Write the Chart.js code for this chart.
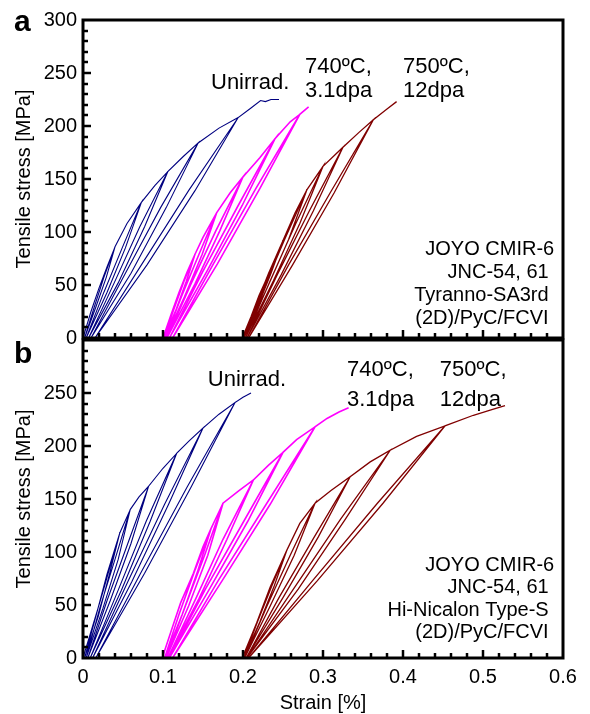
<!DOCTYPE html>
<html>
<head>
<meta charset="utf-8">
<script src="https://cdn.jsdelivr.net/npm/chart.js@4"></script>
<style>
  body { margin: 0; background: #fff; }
  #wrap { position: relative; width: 590px; height: 714px; }
  canvas { position: absolute; left: 0; }
</style>
</head>
<body>
<div id="wrap">
  <canvas id="panelA" width="590" height="356" style="top:0"></canvas>
  <canvas id="panelB" width="590" height="392" style="top:322px"></canvas>
</div>
<script>
// strain [%], stress [MPa] - loading envelope with unload/reload loops
var aUnirrad = [[0,0],[0.010,25],[0.020,47],[0.030,67],[0.040,86],
  [0.029,57],[0.016,29],[0.002,0],[0.014,29],[0.026,57],[0.040,86],
  [0.055,108],[0.073,128],
  [0.053,85],[0.030,43],[0.004,0],[0.026,43],[0.049,85],[0.073,128],
  [0.090,144],[0.106,157],
  [0.077,105],[0.044,52],[0.007,0],[0.039,52],[0.071,105],[0.106,157],
  [0.125,171],[0.144,184],
  [0.104,123],[0.060,61],[0.010,0],[0.053,61],[0.097,123],[0.144,184],
  [0.170,198],[0.194,208],
  [0.140,139],[0.080,69],[0.015,0],[0.073,69],[0.132,139],[0.194,208],
  [0.210,217],[0.222,224],[0.228,223],[0.235,225],[0.245,225]];

var a740 = [[0.100,0],[0.110,22],[0.120,43],[0.130,62],[0.140,79],
  [0.129,53],[0.116,26],[0.101,0],[0.113,26],[0.126,53],[0.140,79],
  [0.150,95],[0.167,118],
  [0.149,79],[0.127,39],[0.103,0],[0.123,39],[0.145,79],[0.167,118],
  [0.184,137],[0.200,152],
  [0.171,101],[0.140,51],[0.105,0],[0.135,51],[0.166,101],[0.200,152],
  [0.221,170],[0.240,188],
  [0.199,125],[0.155,63],[0.108,0],[0.150,63],[0.194,125],[0.240,188],
  [0.259,204],[0.271,211],
  [0.221,141],[0.168,70],[0.112,0],[0.163,70],[0.216,141],[0.271,211],
  [0.282,218]];

var a750 = [[0.199,0],[0.210,20],[0.220,40],[0.235,65],[0.250,92],
  [0.235,61],[0.219,31],[0.200,0],[0.216,31],[0.232,61],[0.250,92],
  [0.265,118],[0.280,140],
  [0.257,93],[0.230,47],[0.201,0],[0.226,47],[0.252,93],[0.280,140],
  [0.300,162],
  [0.271,108],[0.238,54],[0.203,0],[0.234,54],[0.266,108],[0.300,162],
  [0.325,180],
  [0.288,120],[0.248,60],[0.205,0],[0.243,60],[0.283,120],[0.325,180],
  [0.345,194],[0.363,206],
  [0.314,137],[0.262,69],[0.207,0],[0.257,69],[0.309,137],[0.363,206],
  [0.380,216],[0.392,223]];

var bUnirrad = [[0,0],[0.012,30],[0.024,60],[0.036,92],[0.046,118],
  [0.033,79],[0.019,39],[0.002,0],[0.016,39],[0.030,79],[0.046,118],
  [0.059,140],
  [0.044,93],[0.025,47],[0.004,0],[0.021,47],[0.040,93],[0.059,140],
  [0.070,152],[0.082,162],
  [0.060,108],[0.034,54],[0.006,0],[0.030,54],[0.056,108],[0.082,162],
  [0.100,179],[0.117,193],
  [0.084,129],[0.048,64],[0.009,0],[0.044,64],[0.079,129],[0.117,193],
  [0.133,205],[0.150,217],
  [0.107,145],[0.061,72],[0.012,0],[0.056,72],[0.102,145],[0.150,217],
  [0.170,230],[0.190,241],
  [0.135,161],[0.077,80],[0.016,0],[0.072,80],[0.130,161],[0.190,241],
  [0.200,246],[0.210,250]];

var b740 = [[0.099,0],[0.110,25],[0.122,52],[0.138,80],[0.150,105],[0.160,122],
  [0.143,81],[0.124,41],[0.102,0],[0.120,41],[0.139,81],[0.160,122],
  [0.170,138],[0.175,146],
  [0.156,97],[0.132,49],[0.104,0],[0.128,49],[0.152,97],[0.175,146],
  [0.195,158],[0.213,168],
  [0.180,112],[0.145,56],[0.106,0],[0.141,56],[0.175,112],[0.213,168],
  [0.232,182],[0.250,194],
  [0.206,129],[0.158,65],[0.108,0],[0.153,65],[0.201,129],[0.250,194],
  [0.267,206],[0.290,218],
  [0.234,145],[0.174,73],[0.112,0],[0.169,73],[0.229,145],[0.290,218],
  [0.305,226],[0.320,232],[0.332,236]];

var b750 = [[0.199,0],[0.210,20],[0.217,33],[0.234,67],[0.255,102],
  [0.239,68],[0.221,34],[0.201,0],[0.218,34],[0.236,68],[0.255,102],
  [0.271,127],[0.290,146],
  [0.264,97],[0.234,49],[0.202,0],[0.230,49],[0.259,97],[0.290,146],
  [0.310,158],[0.334,171],
  [0.294,114],[0.250,57],[0.204,0],[0.245,57],[0.289,114],[0.334,171],
  [0.359,185],[0.384,196],
  [0.328,131],[0.269,65],[0.205,0],[0.263,65],[0.322,131],[0.384,196],
  [0.417,209],[0.4525,219],
  [0.375,146],[0.293,73],[0.207,0],[0.287,73],[0.368,146],[0.4525,219],
  [0.488,229],[0.510,234],[0.5275,238]];

var xTicks = [0, 0.1, 0.2, 0.3, 0.4, 0.5, 0.6];
var yTicksA = [0, 50, 100, 150, 200, 250, 300];
var yTicksB = [0, 50, 100, 150, 200, 250];

var colors = ['#000080', '#ff00ff', '#800000'];
var widths = [1.1, 1.6, 1.3];
var FONT = '"Liberation Sans", Arial, sans-serif';

// text labels: [text, strain, stress, size, align]
var notesA = [
  ['Unirrad.', 0.160, 235, 22, 'left'],
  ['740ºC,', 0.2775, 250, 22, 'left'], ['3.1dpa', 0.2775, 227, 22, 'left'],
  ['750ºC,', 0.400, 250, 22, 'left'], ['12dpa', 0.400, 227, 22, 'left'],
  ['JOYO CMIR-6', 0.589, 78, 20, 'right'], ['JNC-54, 61 ', 0.589, 56.5, 20, 'right'],
  ['Tyranno-SA3rd ', 0.589, 35, 20, 'right'], ['(2D)/PyC/FCVI ', 0.589, 13.5, 20, 'right']
];
var notesB = [
  ['Unirrad.', 0.156, 257, 22, 'left'],
  ['740ºC,', 0.330, 266, 22, 'left'], ['3.1dpa', 0.330, 238, 22, 'left'],
  ['750ºC,', 0.446, 266, 22, 'left'], ['12dpa', 0.446, 238, 22, 'left'],
  ['JOYO CMIR-6', 0.589, 82, 20, 'right'], ['JNC-54, 61 ', 0.589, 61, 20, 'right'],
  ['Hi-Nicalon Type-S ', 0.589, 39.5, 20, 'right'], ['(2D)/PyC/FCVI ', 0.589, 18.5, 20, 'right']
];

function toXY(arr) {
  return arr.map(function (p) { return { x: p[0], y: p[1] }; });
}

var framePlugin = {
  id: 'frame',
  afterDraw: function (chart) {
    var ctx = chart.ctx, area = chart.chartArea;
    var xs = chart.scales.x, ys = chart.scales.y;
    var o = chart.options.plugins.frame;
    ctx.save();
    ctx.strokeStyle = '#000';
    ctx.lineCap = 'butt';
    // inward ticks on left and bottom
    ctx.lineWidth = 2.5;
    var v;
    for (v = 0; v <= 300.001; v += 10) {
      var py = Math.round(ys.getPixelForValue(v));
      if (py < area.top + 3 || py > area.bottom - 3) continue;
      var len = (Math.round(v) % 50 === 0) ? 8 : 5;
      ctx.beginPath(); ctx.moveTo(area.left, py); ctx.lineTo(area.left + len, py); ctx.stroke();
    }
    for (var i = 0; i <= 30; i++) {
      v = i * 0.02;
      var px = Math.round(xs.getPixelForValue(v));
      if (px < area.left + 3 || px > area.right - 3) continue;
      var l2 = (i % 5 === 0) ? 8 : 5;
      ctx.beginPath(); ctx.moveTo(px, area.bottom); ctx.lineTo(px, area.bottom - l2); ctx.stroke();
    }
    ctx.lineWidth = 3;
    ctx.strokeRect(area.left, area.top, area.right - area.left, area.bottom - area.top);

    ctx.fillStyle = '#000';
    ctx.textBaseline = 'alphabetic';
    o.notes.forEach(function (n) {
      ctx.font = n[3] + 'px ' + FONT;
      ctx.textAlign = n[4];
      ctx.fillText(n[0], xs.getPixelForValue(n[1]), ys.getPixelForValue(n[2]));
    });
    ctx.font = 'bold 30px ' + FONT;
    ctx.textAlign = 'left';
    ctx.fillText(o.letter, 14, o.letterY);
    ctx.restore();
  }
};

function makePanel(id, series, yTicks, showX, pad, xHeight, notes, letter, letterY) {
  var sets = series.map(function (s, k) {
    return {
      data: toXY(s),
      showLine: true,
      borderColor: colors[k],
      borderWidth: widths[k],
      pointRadius: 0,
      fill: false,
      tension: 0
    };
  });
  return new Chart(document.getElementById(id), {
    type: 'scatter',
    data: { datasets: sets },
    options: {
      responsive: false,
      animation: false,
      devicePixelRatio: 1,
      layout: { padding: pad },
      plugins: {
        legend: { display: false },
        tooltip: { enabled: false },
        frame: { notes: notes, letter: letter, letterY: letterY }
      },
      scales: {
        x: {
          type: 'linear', min: 0, max: 0.6,
          display: showX,
          afterBuildTicks: function (s) { s.ticks = xTicks.map(function (v) { return { value: v }; }); },
          afterFit: function (s) { s.height = xHeight; },
          grid: { display: false, drawTicks: false },
          border: { display: false },
          ticks: { color: '#000', font: { family: FONT, size: 20 }, padding: 7, maxRotation: 0,
                   callback: function (v) { return String(v); } },
          title: { display: true, text: 'Strain [%]', color: '#000', font: { family: FONT, size: 20 },
                   padding: { top: 0, bottom: -1 } }
        },
        y: {
          type: 'linear', min: 0, max: 300,
          afterBuildTicks: function (s) { s.ticks = yTicks.map(function (v) { return { value: v }; }); },
          afterFit: function (s) { s.width = 83; },
          grid: { display: false, drawTicks: false },
          border: { display: false },
          ticks: { color: '#000', font: { family: FONT, size: 20 }, padding: 6 },
          title: { display: true, text: 'Tensile stress [MPa]', color: '#000', font: { family: FONT, size: 20 },
                   padding: { top: 12, bottom: 0 } }
        }
      }
    },
    plugins: [framePlugin]
  });
}

// chart areas: a = 20..338 px, b = 340..658 px (canvas b starts at 322)
makePanel('panelA', [aUnirrad, a740, a750], yTicksA, false,
  { left: 0, right: 27, top: 20, bottom: 0 }, 0, notesA, 'a', 31);
makePanel('panelB', [bUnirrad, b740, b750], yTicksB, true,
  { left: 0, right: 27, top: 0, bottom: 0 }, 56, notesB, 'b', 41);
</script>
</body>
</html>
